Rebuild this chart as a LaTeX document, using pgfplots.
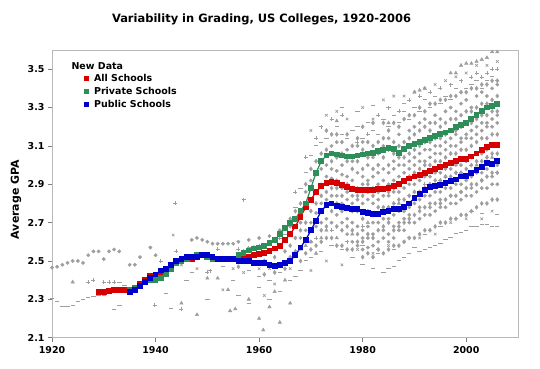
\documentclass[border=0pt]{standalone}
\usepackage{fontspec}
\setmainfont{DejaVu Sans}
\usepackage{pgfplots}
\pgfplotsset{compat=1.18}
\definecolor{allred}{RGB}{214,0,0}
\definecolor{privgreen}{RGB}{46,142,90}
\definecolor{pubblue}{RGB}{0,0,204}
\definecolor{dotgray}{RGB}{158,158,158}
\definecolor{framegray}{RGB}{185,185,185}
\begin{document}
\begin{tikzpicture}
\useasboundingbox (-52bp,-31.3bp) rectangle (488bp,337.7bp);
\begin{axis}[
  at={(0,0)}, anchor=south west,
  scale only axis, width=466bp, height=287.7bp,
  xmin=1920, xmax=2010, ymin=2.1, ymax=3.6,
  xtick={1920,1940,1960,1980,2000},
  ytick={2.1,2.3,2.5,2.7,2.9,3.1,3.3,3.5},
  xtick pos=left, ytick pos=left,
  tick align=outside, major tick length=4bp,
  tick style={draw=gray, line width=0.6pt},
  axis line style={draw=framegray, line width=0.8pt},
  /pgf/number format/assume math mode=true,
  xticklabel style={/pgf/number format/1000 sep={}, font=\bfseries\fontsize{9.5}{10}\selectfont, yshift=-1bp},
  yticklabel style={/pgf/number format/.cd, fixed, fixed zerofill, precision=1, /tikz/.cd, font=\bfseries\fontsize{9.5}{10}\selectfont},
  clip=false,
  legend style={at={(rel axis cs:0,1)}, anchor=north west, xshift=31bp, yshift=-21bp,
     draw=none, fill=none, font=\bfseries\fontsize{9.5}{11}\selectfont,
     row sep=0.3bp, column sep=3.5bp, inner sep=1bp},
  legend cell align=left,
  legend image code/.code={\draw[#1, only marks, mark size=2.2bp] plot coordinates {(0.1cm,0cm)};},
]
% ---------- gray background scatter ----------
\addplot[only marks, mark=*, mark size=1.7bp, color=dotgray, forget plot] coordinates {
(1920,2.465)(1921,2.47)(1922,2.48)(1923,2.49)(1924,2.50)(1925,2.50)(1926,2.49)(1927,2.53)(1928,2.55)(1929,2.55)(1930,2.51)(1931,2.55)(1932,2.56)(1933,2.55)(1935,2.48)(1936,2.48)(1937,2.52)(1939,2.57)(1940,2.53)
(1947,2.61)(1948,2.62)(1949,2.61)(1950,2.60)(1951,2.59)(1952,2.59)(1953,2.59)(1954,2.59)(1955,2.59)(1956,2.60)(1958,2.61)(1960,2.62)(1962,2.63)(1964,2.66)(1966,2.68)
(1968,2.62)(1968,2.70)(1969,2.66)(1969,2.86)(1970,2.70)(1970,2.92)(1970,2.60)(1971,2.75)(1971,2.95)(1971,2.68)
(1972,2.80)(1972,2.98)(1972,2.70)(1972,2.90)(1973,2.82)(1973,3.00)(1973,2.72)(1973,2.94)
(1974,2.84)(1974,2.98)(1974,2.70)(1974,2.93)(1974,3.10)(1975,2.84)(1975,2.97)(1975,2.74)(1975,2.92)(1975,3.12)
(1976,2.80)(1976,2.95)(1976,2.70)(1976,2.88)(1976,3.00)(1977,2.82)(1977,2.94)(1977,2.72)(1977,2.86)(1977,3.08)(1977,2.64)
(1978,2.80)(1978,2.92)(1978,2.70)(1978,2.84)(1978,3.02)(1978,2.60)(1979,2.82)(1979,2.96)(1979,2.68)(1979,2.88)(1979,3.10)(1979,2.58)
(1980,2.80)(1980,2.94)(1980,2.66)(1980,2.90)(1980,3.12)(1980,2.56)(1980,2.62)(1981,2.82)(1981,2.92)(1981,2.68)(1981,2.86)(1981,3.00)(1981,2.57)(1981,2.62)
(1982,2.80)(1982,2.94)(1982,2.70)(1982,2.88)(1982,3.04)(1982,2.58)(1982,2.64)(1983,2.82)(1983,2.96)(1983,2.70)(1983,2.90)(1983,3.06)(1983,2.60)(1983,2.56)
(1984,2.84)(1984,2.98)(1984,2.72)(1984,2.92)(1984,3.10)(1984,2.62)(1984,2.66)(1985,2.84)(1985,2.96)(1985,2.72)(1985,2.90)(1985,3.14)(1985,2.64)(1985,2.60)
(1986,2.86)(1986,2.98)(1986,2.74)(1986,2.92)(1986,3.02)(1986,2.62)(1986,2.68)(1987,2.86)(1987,3.00)(1987,2.76)(1987,2.94)(1987,3.16)(1987,2.66)(1987,2.70)
(1988,2.88)(1988,3.00)(1988,2.76)(1988,2.96)(1988,3.08)(1988,2.66)(1988,2.72)(1989,2.90)(1989,3.02)(1989,2.78)(1989,2.98)(1989,3.18)(1989,2.70)(1989,2.74)
(1990,2.90)(1990,3.04)(1990,2.80)(1990,3.00)(1990,3.20)(1990,2.70)(1991,2.92)(1991,3.06)(1991,2.82)(1991,3.02)(1991,3.22)(1991,2.72)(1991,2.78)
(1992,2.94)(1992,3.08)(1992,2.84)(1992,3.02)(1992,3.24)(1992,2.74)(1993,2.94)(1993,3.08)(1993,2.84)(1993,3.04)(1993,3.22)(1993,2.74)(1993,2.80)
(1994,2.96)(1994,3.10)(1994,2.86)(1994,3.06)(1994,3.26)(1994,2.76)(1995,2.96)(1995,3.10)(1995,2.86)(1995,3.06)(1995,3.24)(1995,2.78)(1995,2.82)
(1996,2.98)(1996,3.12)(1996,2.88)(1996,3.08)(1996,3.28)(1996,2.78)(1997,2.98)(1997,3.14)(1997,2.88)(1997,3.10)(1997,3.30)(1997,2.80)(1997,2.84)
(1998,3.00)(1998,3.16)(1998,2.90)(1998,3.10)(1998,3.28)(1998,2.80)(1999,3.00)(1999,3.14)(1999,2.90)(1999,3.12)(1999,3.32)(1999,2.82)(1999,2.86)
(2000,3.02)(2000,3.16)(2000,2.92)(2000,3.14)(2000,3.34)(2000,2.84)(2001,3.04)(2001,3.18)(2001,2.94)(2001,3.14)(2001,3.30)(2001,2.84)(2001,2.88)
(2002,3.06)(2002,3.20)(2002,2.96)(2002,3.16)(2002,3.36)(2002,2.86)(2003,3.06)(2003,3.22)(2003,2.96)(2003,3.18)(2003,3.38)(2003,2.88)(2003,2.92)
(2004,3.08)(2004,3.22)(2004,2.98)(2004,3.20)(2004,3.36)(2004,2.88)(2005,3.10)(2005,3.24)(2005,3.00)(2005,3.20)(2005,3.40)(2005,2.90)(2005,2.94)
(2006,3.10)(2006,3.26)(2006,3.00)(2006,3.22)(2006,3.42)(2006,2.90)
};
\addplot[only marks, mark=diamond*, mark size=2.1bp, color=dotgray, forget plot] coordinates {
(1956,2.47)(1957,2.55)(1959,2.57)(1961,2.50)(1963,2.52)(1965,2.55)(1961,2.43)(1963,2.44)(1965,2.46)
(1966,2.52)(1966,2.58)(1966,2.72)(1967,2.55)(1967,2.62)(1967,2.76)(1968,2.50)(1968,2.66)(1968,2.80)(1969,2.54)(1969,2.70)(1969,2.90)
(1970,2.56)(1970,2.76)(1970,2.98)(1971,2.58)(1971,2.80)(1971,3.02)(1972,2.60)(1972,2.66)(1972,2.84)(1972,3.06)
(1973,2.62)(1973,2.68)(1973,2.86)(1973,3.08)(1973,3.18)(1974,2.62)(1974,2.76)(1974,2.88)(1974,3.02)(1974,3.16)
(1975,2.58)(1975,2.68)(1975,2.80)(1975,2.88)(1975,3.04)(1975,3.16)(1976,2.58)(1976,2.66)(1976,2.76)(1976,2.84)(1976,3.06)(1976,3.12)
(1977,2.56)(1977,2.68)(1977,2.78)(1977,2.90)(1977,3.02)(1977,3.16)(1978,2.56)(1978,2.66)(1978,2.76)(1978,2.88)(1978,2.98)(1978,3.10)
(1979,2.60)(1979,2.64)(1979,2.76)(1979,2.84)(1979,3.02)(1979,3.14)(1980,2.52)(1980,2.60)(1980,2.72)(1980,2.84)(1980,2.98)(1980,3.08)(1980,3.20)
(1981,2.54)(1981,2.64)(1981,2.76)(1981,2.90)(1981,3.04)(1981,3.12)(1982,2.52)(1982,2.62)(1982,2.74)(1982,2.84)(1982,2.98)(1982,3.10)(1982,3.22)
(1983,2.56)(1983,2.66)(1983,2.78)(1983,2.86)(1983,3.00)(1983,3.12)(1984,2.54)(1984,2.68)(1984,2.78)(1984,2.88)(1984,3.04)(1984,3.14)(1984,3.22)
(1985,2.56)(1985,2.70)(1985,2.78)(1985,2.86)(1985,3.00)(1985,3.08)(1985,3.18)(1986,2.58)(1986,2.66)(1986,2.80)(1986,2.88)(1986,3.06)(1986,3.12)(1986,3.22)
(1987,2.58)(1987,2.68)(1987,2.82)(1987,2.90)(1987,3.04)(1987,3.10)(1987,3.20)(1988,2.60)(1988,2.70)(1988,2.82)(1988,2.92)(1988,3.04)(1988,3.12)(1988,3.24)
(1989,2.62)(1989,2.72)(1989,2.84)(1989,2.94)(1989,3.06)(1989,3.14)(1989,3.26)(1990,2.62)(1990,2.74)(1990,2.86)(1990,2.96)(1990,3.08)(1990,3.16)(1990,3.26)
(1991,2.64)(1991,2.76)(1991,2.86)(1991,2.98)(1991,3.10)(1991,3.18)(1991,3.30)(1992,2.66)(1992,2.78)(1992,2.88)(1992,3.00)(1992,3.12)(1992,3.20)(1992,3.28)
(1993,2.66)(1993,2.78)(1993,2.90)(1993,3.00)(1993,3.12)(1993,3.18)(1993,3.32)(1994,2.68)(1994,2.80)(1994,2.92)(1994,3.02)(1994,3.14)(1994,3.22)(1994,3.32)
(1995,2.70)(1995,2.80)(1995,2.92)(1995,3.02)(1995,3.14)(1995,3.20)(1995,3.34)(1996,2.70)(1996,2.82)(1996,2.94)(1996,3.04)(1996,3.16)(1996,3.22)(1996,3.34)
(1997,2.72)(1997,2.84)(1997,2.94)(1997,3.06)(1997,3.18)(1997,3.24)(1997,3.36)(1998,2.72)(1998,2.84)(1998,2.96)(1998,3.06)(1998,3.18)(1998,3.24)(1998,3.36)
(1999,2.74)(1999,2.86)(1999,2.96)(1999,3.08)(1999,3.20)(1999,3.26)(1999,3.38)(2000,2.74)(2000,2.88)(2000,2.98)(2000,3.08)(2000,3.22)(2000,3.28)(2000,3.38)
(2001,2.76)(2001,2.90)(2001,3.00)(2001,3.10)(2001,3.22)(2001,3.28)(2001,3.40)(2002,2.78)(2002,2.90)(2002,3.02)(2002,3.12)(2002,3.24)(2002,3.30)(2002,3.40)
(2003,2.80)(2003,2.92)(2003,3.02)(2003,3.14)(2003,3.26)(2003,3.32)(2003,3.42)(2004,2.80)(2004,2.94)(2004,3.04)(2004,3.14)(2004,3.26)(2004,3.32)(2004,3.42)
(2005,2.82)(2005,2.96)(2005,3.06)(2005,3.16)(2005,3.28)(2005,3.34)(2005,3.44)(2006,2.82)(2006,2.96)(2006,3.06)(2006,3.16)(2006,3.28)(2006,3.36)(2006,3.44)
};
\addplot[only marks, mark=-, mark size=2.2bp, color=dotgray, line width=1pt, forget plot] coordinates {
(1920,2.305)(1921,2.29)(1922,2.265)(1923,2.265)(1924,2.27)(1925,2.29)(1926,2.30)(1927,2.31)(1928,2.315)(1929,2.32)(1930,2.32)(1932,2.39)(1933,2.39)(1934,2.37)(1932,2.245)(1933,2.27)
(1942,2.33)(1943,2.25)(1946,2.40)(1947,2.44)(1953,2.47)(1955,2.40)(1958,2.45)(1960,2.42)(1961,2.58)(1962,2.40)(1963,2.60)(1964,2.44)(1965,2.64)(1950,2.30)(1956,2.32)(1958,2.28)(1960,2.36)(1962,2.30)(1964,2.34)
(1966,2.70)(1967,2.78)(1968,2.88)(1969,2.96)(1970,3.05)(1971,3.10)(1972,3.12)(1973,3.14)(1975,3.20)(1976,3.16)(1977,3.14)(1978,3.18)(1979,3.20)(1980,3.14)(1981,3.22)(1982,3.18)(1983,3.16)(1984,3.24)(1985,3.20)(1986,3.26)(1987,3.22)(1988,3.28)(1989,3.24)(1990,3.30)(1991,3.28)(1992,3.34)(1993,3.30)(1994,3.36)(1995,3.32)(1996,3.36)(1997,3.34)(1998,3.40)(1999,3.38)(2000,3.40)(2001,3.42)(2002,3.44)(2003,3.40)(2004,3.44)(2005,3.46)(2006,3.44)
(1966,2.40)(1967,2.42)(1968,2.45)(1969,2.50)(1970,2.52)(1972,2.55)(1974,2.58)(1976,2.56)(1978,2.52)(1980,2.48)(1982,2.46)(1984,2.44)(1985,2.46)(1986,2.47)(1987,2.50)(1988,2.52)(1989,2.54)(1990,2.57)(1991,2.55)(1992,2.56)(1993,2.57)(1994,2.58)(1995,2.59)(1996,2.61)(1997,2.62)(1998,2.645)(1999,2.65)(2000,2.66)(2001,2.68)(2002,2.68)(2003,2.69)(2004,2.69)(2005,2.68)(2006,2.68)
(1980,2.58)(1983,2.54)(1986,2.56)(1989,2.62)(1992,2.64)(1995,2.68)(1998,2.72)(2001,2.76)(2003,2.75)(2006,2.74)
(1976,3.30)(1979,3.28)(1982,3.31)(1985,3.30)(1988,3.32)
};
\addplot[only marks, mark=triangle*, mark size=2bp, color=dotgray, forget plot] coordinates {
(1924,2.39)(1950,2.41)(1952,2.41)(1954,2.35)(1954.4,2.24)(1955.4,2.25)(1960,2.20)(1960.8,2.14)(1962,2.26)(1964,2.18)(1958,2.30)(1966,2.28)(1948,2.22)(1945,2.28)(1963,2.34)(1965,2.40)
(1968,2.56)(1969,2.58)(1970,2.60)(1971,2.54)(1972,2.62)(1973,2.66)(1975,2.62)(1978,2.64)(1981,2.70)(1984,2.76)(1987,2.80)(1990,2.86)(1993,2.90)(1996,2.94)(1999,2.96)(2002,3.00)(2005,3.04)
(1975,3.23)(1985,3.22)(1990,3.38)(1991,3.39)(1992,3.40)(1997,3.48)(1998,3.48)(1999,3.52)(2000,3.53)(2001,3.53)(2002,3.54)(2003,3.55)(2004,3.56)(2005,3.59)(2006,3.59)
};
\addplot[only marks, mark=+, mark size=2bp, color=dotgray, line width=0.7pt, forget plot] coordinates {
(1927,2.39)(1928,2.40)(1930,2.39)(1931,2.39)(1932,2.39)(1939.8,2.27)(1945,2.25)(1943.8,2.80)(1957,2.82)(1950,2.44)(1950.5,2.45)(1941,2.50)(1944,2.55)(1952,2.56)(1956,2.56)(1958,2.57)(1960,2.58)(1962,2.60)(1964,2.62)(1966,2.64)
(1972,3.20)(1974,3.24)(1976,3.26)(1979,3.12)(1981,3.16)(1983,3.26)(1985,3.30)(1987,3.28)(1989,3.34)(1991,3.36)(1993,3.38)(1995,3.40)(1997,3.42)(1999,3.44)(2001,3.46)(2002,3.48)(2003,3.46)(2004,3.48)(2005,3.50)(2006,3.50)
(1971,2.62)(1974,2.66)(1977,2.60)(1980,2.68)(1983,2.74)(1986,2.80)(1989,2.84)(1992,2.90)(1995,2.92)(1998,2.96)(2001,3.00)(2004,3.04)(2006,2.96)
(1967,2.86)(1969,3.04)(1971,3.14)
};
\addplot[only marks, mark=x, mark size=1.8bp, color=dotgray, line width=0.7pt, forget plot] coordinates {
(1943.4,2.635)(1945,2.48)(1948,2.46)(1955,2.46)(1957,2.44)(1960,2.46)(1962,2.46)(1964,2.47)(1966,2.46)(1959,2.54)(1953,2.35)(1961,2.32)(1963,2.38)
(1970,3.18)(1973,3.26)(1975,3.28)(1977,3.24)(1980,3.30)(1982,3.24)(1984,3.34)(1986,3.36)(1988,3.36)(1990,3.38)(1992,3.40)(1994,3.42)(1996,3.44)(1998,3.46)(2000,3.48)(2002,3.52)(2004,3.52)(2006,3.54)
(1970,2.45)(1973,2.50)(1976,2.48)(1979,2.56)(1982,2.54)(1985,2.58)(1988,2.60)(1991,2.62)(1994,2.64)(1997,2.70)(2000,2.72)(2003,2.72)(2005,2.76)
};
% ---------- main series ----------
\addplot[color=allred, line width=1.2pt, mark=square*, mark size=2.3bp] coordinates {
(1929,2.34)(1930,2.34)(1931,2.345)(1932,2.35)(1933,2.35)(1934,2.35)(1935,2.345)(1936,2.36)(1937,2.38)(1938,2.40)(1939,2.42)(1940,2.43)(1941,2.44)(1942,2.45)(1943,2.47)(1944,2.49)(1945,2.50)(1946,2.51)(1947,2.51)(1948,2.52)(1949,2.53)(1950,2.53)(1951,2.52)(1952,2.51)(1953,2.51)(1954,2.51)(1955,2.51)(1956,2.51)(1957,2.52)(1958,2.52)(1959,2.53)(1960,2.535)(1961,2.54)(1962,2.55)(1963,2.565)(1964,2.58)(1965,2.61)(1966,2.64)(1967,2.68)(1968,2.73)(1969,2.78)(1970,2.82)(1971,2.86)(1972,2.89)(1973,2.905)(1974,2.91)(1975,2.905)(1976,2.895)(1977,2.885)(1978,2.875)(1979,2.87)(1980,2.87)(1981,2.87)(1982,2.87)(1983,2.875)(1984,2.875)(1985,2.88)(1986,2.89)(1987,2.90)(1988,2.915)(1989,2.93)(1990,2.94)(1991,2.95)(1992,2.96)(1993,2.97)(1994,2.98)(1995,2.99)(1996,3.00)(1997,3.01)(1998,3.02)(1999,3.03)(2000,3.03)(2001,3.045)(2002,3.06)(2003,3.08)(2004,3.095)(2005,3.105)(2006,3.105)
};
\addlegendentry{All Schools}
\addplot[color=privgreen, line width=1.2pt, mark=square*, mark size=2.3bp] coordinates {
(1935,2.35)(1936,2.36)(1937,2.37)(1938,2.39)(1939,2.40)(1940,2.40)(1941,2.41)(1942,2.43)(1943,2.46)(1944,2.49)(1945,2.50)(1946,2.51)(1947,2.52)(1948,2.53)(1949,2.53)(1950,2.52)(1951,2.51)(1952,2.51)(1953,2.51)(1954,2.51)(1955,2.51)(1956,2.53)(1957,2.54)(1958,2.555)(1959,2.565)(1960,2.57)(1961,2.58)(1962,2.595)(1963,2.61)(1964,2.64)(1965,2.67)(1966,2.70)(1967,2.72)(1968,2.76)(1969,2.80)(1970,2.88)(1971,2.96)(1972,3.02)(1973,3.05)(1974,3.06)(1975,3.055)(1976,3.05)(1977,3.045)(1978,3.045)(1979,3.05)(1980,3.055)(1981,3.06)(1982,3.065)(1983,3.075)(1984,3.08)(1985,3.09)(1986,3.085)(1987,3.065)(1988,3.085)(1989,3.10)(1990,3.11)(1991,3.12)(1992,3.13)(1993,3.14)(1994,3.15)(1995,3.16)(1996,3.17)(1997,3.18)(1998,3.20)(1999,3.21)(2000,3.22)(2001,3.24)(2002,3.26)(2003,3.28)(2004,3.30)(2005,3.31)(2006,3.32)
};
\addlegendentry{Private Schools}
\addplot[color=pubblue, line width=1.2pt, mark=square*, mark size=2.3bp] coordinates {
(1935,2.34)(1936,2.35)(1937,2.37)(1938,2.39)(1939,2.41)(1940,2.43)(1941,2.45)(1942,2.46)(1943,2.48)(1944,2.50)(1945,2.51)(1946,2.52)(1947,2.52)(1948,2.52)(1949,2.53)(1950,2.53)(1951,2.52)(1952,2.51)(1953,2.51)(1954,2.51)(1955,2.51)(1956,2.50)(1957,2.50)(1958,2.50)(1959,2.49)(1960,2.49)(1961,2.49)(1962,2.48)(1963,2.475)(1964,2.48)(1965,2.49)(1966,2.50)(1967,2.53)(1968,2.57)(1969,2.61)(1970,2.66)(1971,2.71)(1972,2.76)(1973,2.79)(1974,2.80)(1975,2.785)(1976,2.78)(1977,2.775)(1978,2.77)(1979,2.77)(1980,2.755)(1981,2.75)(1982,2.745)(1983,2.745)(1984,2.755)(1985,2.76)(1986,2.77)(1987,2.77)(1988,2.78)(1989,2.80)(1990,2.83)(1991,2.85)(1992,2.87)(1993,2.885)(1994,2.89)(1995,2.895)(1996,2.905)(1997,2.915)(1998,2.925)(1999,2.94)(2000,2.945)(2001,2.96)(2002,2.975)(2003,2.99)(2004,3.01)(2005,3.005)(2006,3.02)
};
\addlegendentry{Public Schools}
\end{axis}
\node[font=\bfseries\fontsize{11.5}{13}\selectfont] at (209.5bp,318.7bp) {Variability in Grading, US Colleges, 1920-2006};
\node[font=\bfseries\fontsize{9.5}{11}\selectfont, anchor=west] at (16bp,271.5bp) {New Data};
\node[font=\bfseries\fontsize{11}{12}\selectfont, rotate=90] at (-36bp,138bp) {Average GPA};
\end{tikzpicture}
\end{document}
